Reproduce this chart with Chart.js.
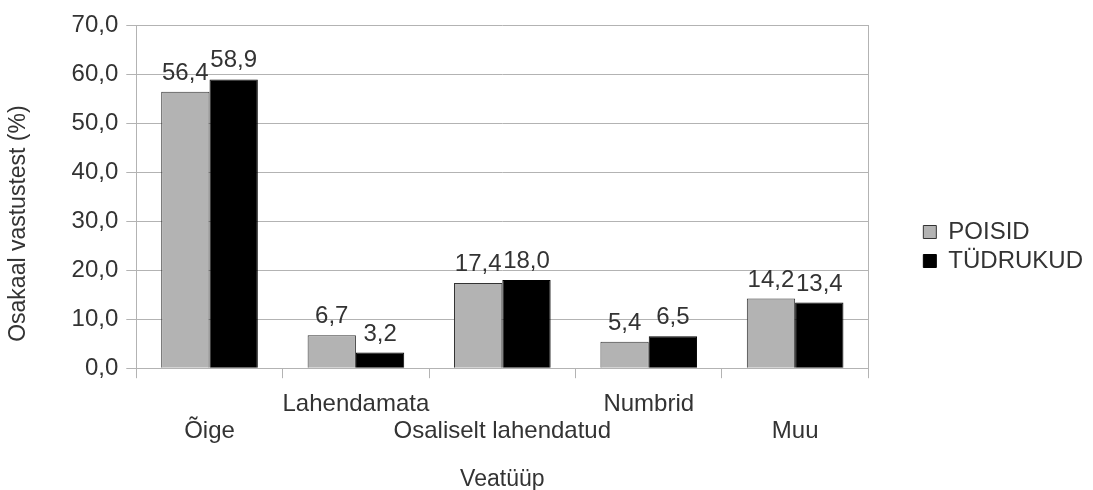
<!DOCTYPE html>
<html>
<head>
<meta charset="utf-8">
<script src="https://cdn.jsdelivr.net/npm/chart.js@4.4.1/dist/chart.umd.min.js"></script>
<style>
  body { margin: 0; background: #fff; }
  #wrap { width: 1093px; height: 490px; position: relative; }
</style>
</head>
<body>
<div id="wrap"><canvas id="myChart"></canvas></div>
<script>
const categories = ['Õige', 'Lahendamata', 'Osaliselt lahendatud', 'Numbrid', 'Muu'];
const poisid = [56.4, 6.7, 17.4, 5.4, 14.2];
const tudrukud = [58.9, 3.2, 18.0, 6.5, 13.4];
const seriesNames = ['POISID', 'TÜDRUKUD'];
const yTitle = 'Osakaal vastustest (%)';
const xTitle = 'Veatüüp';

const fmt = v => v.toFixed(1).replace('.', ',');
const gridColor = '#b3b3b3';
const textColor = '#333333';
const fontFamily = "'Liberation Sans', Arial, sans-serif";

Chart.defaults.font.family = fontFamily;
Chart.defaults.font.size = 24;
Chart.defaults.color = textColor;

// value above every bar
const valueLabels = {
  id: 'valueLabels',
  afterDatasetsDraw(chart) {
    const ctx = chart.ctx;
    ctx.save();
    ctx.font = '24px ' + fontFamily;
    ctx.fillStyle = textColor;
    ctx.textAlign = 'center';
    ctx.textBaseline = 'alphabetic';
    chart.data.datasets.forEach((ds, i) => {
      chart.getDatasetMeta(i).data.forEach((bar, j) => {
        ctx.fillText(fmt(ds.data[j]), bar.x, bar.y - 12);
      });
    });
    ctx.restore();
  }
};

// y title sits a bit lower than the axis middle in the original
const yTitleDraw = {
  id: 'yTitleDraw',
  afterDraw(chart) {
    const ctx = chart.ctx;
    const ys = chart.scales.y;
    const area = chart.chartArea;
    ctx.save();
    ctx.font = '23px ' + fontFamily;
    ctx.fillStyle = textColor;
    ctx.textAlign = 'center';
    ctx.textBaseline = 'middle';
    ctx.translate(ys.left + 1 + 13.8, (area.top + area.bottom) / 2 + 27);
    ctx.rotate(-Math.PI / 2);
    ctx.fillText(yTitle, 0, 0);
    ctx.restore();
  }
};

const data = {
  labels: categories,
  datasets: [{
    label: seriesNames[0],
    data: poisid,
    backgroundColor: '#b3b3b3',
    borderColor: '#333333',
    borderWidth: 1
  }, {
    label: seriesNames[1],
    data: tudrukud,
    backgroundColor: '#000000',
    borderColor: '#000000',
    borderWidth: 1
  }]
};

const config = {
  type: 'bar',
  data: data,
  plugins: [valueLabels, yTitleDraw],
  options: {
    responsive: true,
    maintainAspectRatio: false,
    animation: false,
    layout: { padding: { top: 0, right: 0, bottom: -3, left: 4 } },
    datasets: { bar: { categoryPercentage: 0.66, barPercentage: 1.0 } },
    scales: {
      x: {
        grid: { offset: true, drawOnChartArea: false, drawTicks: true, tickLength: 10, color: gridColor },
        border: { color: gridColor },
        ticks: {
          maxRotation: 0,
          autoSkip: false,
          padding: 12,
          font: { size: 24, lineHeight: 1.15 },
          callback: function (value, index) {
            const l = categories[index];
            return index % 2 ? [l, ''] : ['', l];
          }
        },
        title: { display: true, text: xTitle, font: { size: 23 }, padding: { top: 8, bottom: 0 } }
      },
      // top spacer so the plot starts lower
      x2: {
        position: 'top',
        ticks: { display: false },
        grid: { display: false },
        border: { display: false },
        afterFit(scale) { scale.height = 25; }
      },
      y: {
        min: 0,
        max: 70,
        ticks: { stepSize: 10, padding: 8, callback: v => fmt(v) },
        grid: { color: gridColor, tickLength: 10 },
        border: { color: gridColor },
        // space is kept here, text is painted by yTitleDraw
        title: { display: true, text: yTitle, color: 'rgba(0,0,0,0)', font: { size: 23 }, padding: { top: 1, bottom: 31 } }
      },
      // right frame line + gap before legend
      y2: {
        position: 'right',
        min: 0,
        max: 70,
        ticks: { display: false },
        grid: { drawOnChartArea: false, drawTicks: false },
        border: { color: gridColor },
        afterFit(scale) { scale.width = 50; }
      }
    },
    plugins: {
      legend: {
        position: 'right',
        labels: {
          boxWidth: 13,
          boxHeight: 13,
          padding: 5,
          color: textColor,
          font: { size: 24 }
        }
      },
      tooltip: { enabled: false }
    }
  }
};

const canvas = document.getElementById('myChart');
const myChart = new Chart(canvas, config);
</script>
</body>
</html>
